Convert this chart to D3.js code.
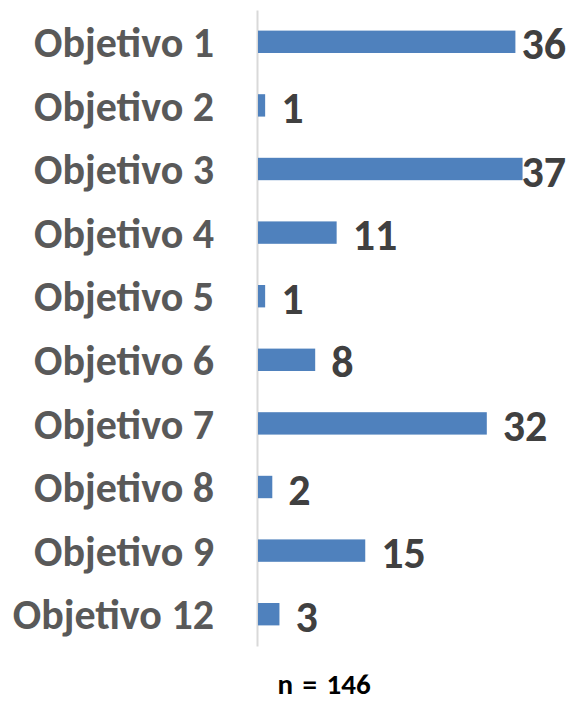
<!DOCTYPE html>
<html>
<head>
<meta charset="utf-8">
<script src="https://cdn.jsdelivr.net/npm/d3@7"></script>
<style>
    body { margin: 0; background: #ffffff; }
    svg { display: block; font-family: Carlito, Calibri, Lato, sans-serif; font-weight: bold; }
</style>
</head>
<body>
<svg></svg>
<script>
var categories = ["Objetivo 1", "Objetivo 2", "Objetivo 3", "Objetivo 4", "Objetivo 5",
    "Objetivo 6", "Objetivo 7", "Objetivo 8", "Objetivo 9", "Objetivo 12"]
var counts = [36, 1, 37, 11, 1, 8, 32, 2, 15, 3]
var totalLabel = "n = 146"

var screen = { width: 567, height: 702 }

var svg = d3.select("svg")
    .attr("width", screen.width)
    .attr("height", screen.height)

var rows = categories.map(function (name, i) {
    return { name: name, value: counts[i] }
})

var xScale = d3.scaleLinear()
    .domain([0, 40])
    .range([257, 543])

var yScale = d3.scaleBand()
    .domain(categories)
    .range([10, 646])
    .paddingInner(0.648)
    .paddingOuter(0.324)

// category axis on the left, only the thin grey line and the labels
var yAxis = d3.axisLeft(yScale)
    .tickSize(0)
    .tickPadding(43)

var axis = svg.append("g")
    .attr("transform", "translate(" + xScale(0) + ",0)")
    .call(yAxis)

axis.select(".domain")
    .attr("stroke", "#d9d9d9")
    .attr("stroke-width", 2)
axis.selectAll(".tick text")
    .attr("fill", "#595959")
    .style("font-size", "42px")
    .style("font-family", "Carlito, Calibri, Lato, sans-serif")
    .style("font-weight", "bold")
    .attr("dy", "0.36em")

// bars
svg.append("g")
    .selectAll("rect")
    .data(rows)
    .enter()
    .append("rect")
    .attr("x", xScale(0) + 1)
    .attr("y", function (d) { return yScale(d.name) })
    .attr("width", function (d) { return xScale(d.value) - xScale(0) })
    .attr("height", yScale.bandwidth())
    .attr("fill", "#4f81bd")

// value labels, pushed back inside when they would run off the right side
var rightLimit = 566
svg.append("g")
    .selectAll("text")
    .data(rows)
    .enter()
    .append("text")
    .text(function (d) { return d.value })
    .attr("fill", "#404040")
    .style("font-size", "44px")
    .attr("y", function (d) { return yScale(d.name) + yScale.bandwidth() / 2 })
    .attr("dy", "0.4em")
    .attr("x", function (d) {
        var w = this.getComputedTextLength()
        return Math.min(xScale(d.value) + 17, rightLimit - w)
    })

svg.append("text")
    .text(totalLabel)
    .attr("x", 324)
    .attr("y", 694)
    .attr("text-anchor", "middle")
    .attr("fill", "#000000")
    .style("font-size", "29px")
    .style("word-spacing", "3px")
</script>
</body>
</html>
